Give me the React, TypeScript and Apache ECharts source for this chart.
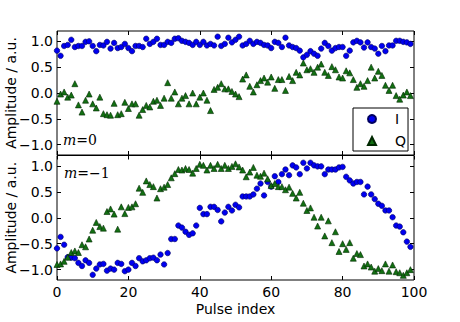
import React, { useEffect, useRef } from "react";
import * as echarts from "echarts";

const xTicks = [0, 20, 40, 60, 80, 100];
const yTicks = [-1, -0.5, 0, 0.5, 1];

const topI = [
  0.82, 0.72, 0.91, 0.93, 1.03, 0.89, 0.91, 0.91, 0.99, 1.0,
  0.91, 0.81, 0.93, 0.92, 0.99, 0.86, 0.97, 0.87, 0.89, 0.95,
  0.87, 0.81, 0.91, 0.91, 0.89, 1.05, 0.95, 0.99, 1.05, 0.93,
  0.93, 0.99, 0.97, 1.05, 1.06, 1.01, 0.99, 0.97, 0.93, 0.99,
  0.93, 0.99, 0.92, 0.95, 0.92, 1.09, 0.91, 0.95, 1.07, 0.98,
  1.03, 1.09, 0.92, 0.95, 1.01, 0.95, 0.99, 0.97, 0.93, 0.92,
  0.87, 0.99, 0.97, 0.89, 1.07, 0.92, 0.89, 0.87, 0.82, 0.69,
  0.74, 0.81, 0.76, 0.72, 0.86, 0.97, 0.91, 0.82, 0.87, 0.89,
  0.89, 0.72, 0.82, 0.98, 1.01, 0.98, 0.88, 0.98, 0.89, 0.86,
  0.76, 0.91, 0.81, 0.92, 0.92, 1.01, 1.01, 0.99, 0.98, 0.95,
];

const topQ = [
  -0.16, -0.02, 0.02, -0.08, -0.04, 0.18, -0.23, -0.37, -0.14, -0.02,
  -0.21, -0.29, -0.08, -0.4, -0.42, -0.43, -0.2, -0.42, -0.4, -0.18,
  -0.3, -0.21, -0.21, -0.43, -0.32, -0.24, -0.27, -0.16, -0.14, -0.24,
  -0.1, 0.2, -0.1, 0.02, -0.21, -0.1, -0.05, -0.21, 0.0, -0.21,
  -0.08, 0.0, -0.14, -0.34, 0.07, 0.11, 0.18, 0.08, 0.08, 0.03,
  -0.02, -0.07, 0.27, 0.35, 0.13, 0.02, 0.16, 0.24, 0.29, 0.21,
  0.31, 0.09, 0.26, 0.26, 0.05, 0.32, 0.24, 0.4, 0.35, 0.58,
  0.45, 0.47, 0.4, 0.5, 0.56, 0.4, 0.34, 0.51, 0.45, 0.31,
  0.29, 0.43, 0.39, 0.26, 0.11, 0.18, 0.13, 0.24, 0.5, 0.29,
  0.42, 0.34, 0.15, 0.05, 0.15, -0.05, -0.12, -0.04, 0.02, -0.05,
];

const botI = [
  -0.59, -0.37, -0.52, -0.76, -0.77, -0.78, -0.87, -0.93, -0.82, -0.87,
  -1.1, -0.98, -0.9, -0.89, -1.02, -0.98, -1.0, -0.87, -0.89, -1.03,
  -1.0, -0.87, -0.93, -0.78, -0.84, -0.82, -0.78, -0.77, -0.82, -0.71,
  -0.9, -0.68, -0.41, -0.41, -0.15, -0.19, -0.27, -0.33, -0.3, -0.15,
  0.19, 0.07, 0.07, 0.21, 0.21, 0.15, -0.07, 0.1, 0.21, 0.14,
  0.25, 0.2, 0.41, 0.41, 0.41, 0.45, 0.56, 0.66, 0.43, 0.69,
  0.6, 0.8, 0.69, 0.84, 0.93, 0.82, 1.01, 0.97, 0.84, 1.06,
  0.95, 1.06, 1.01, 0.99, 0.99, 0.84, 0.93, 0.93, 0.93, 0.97,
  0.98, 0.79, 0.72, 0.66, 0.69, 0.69, 0.45, 0.6, 0.45, 0.36,
  0.27, 0.23, 0.14, 0.14, 0.01, -0.15, -0.17, -0.28, -0.46, -0.56,
];

const botQ = [
  -0.9, -0.89, -0.84, -0.76, -0.67, -0.64, -0.67, -0.52, -0.56, -0.41,
  -0.24, -0.09, -0.17, -0.2, 0.12, 0.17, 0.07, -0.22, 0.21, 0.08,
  0.2, 0.21, 0.27, 0.57, 0.49, 0.71, 0.64, 0.6, 0.38, 0.56,
  0.59, 0.64, 0.77, 0.85, 0.93, 0.92, 0.95, 0.93, 0.86, 0.95,
  1.03, 1.01, 0.92, 1.01, 0.95, 1.03, 0.95, 1.01, 0.95, 0.99,
  1.04, 0.98, 0.92, 0.79, 0.88, 0.97, 0.82, 0.8, 0.86, 0.75,
  0.62, 0.66, 0.6, 0.6, 0.54, 0.59, 0.47, 0.38, 0.49, 0.28,
  0.14, 0.19, 0.01, -0.16, 0.01, -0.35, -0.06, -0.48, -0.27, -0.65,
  -0.5, -0.61, -0.48, -0.78, -0.69, -0.71, -0.93, -0.89, -0.95, -1.03,
  -0.98, -1.02, -0.89, -1.03, -0.91, -1.04, -1.06, -1.11, -1.06, -1.0,
];

const FONT = "DejaVu Sans";
const fmtY = (v: number) => v.toFixed(1).replace("-", "\u2212");

const pairs = (arr: number[]) => arr.map((v, i) => [i, v]);

function makeX(gridIndex: number, position: "top" | "bottom", labels: boolean) {
  return {
    type: "value",
    gridIndex,
    position,
    min: xTicks[0],
    max: xTicks[xTicks.length - 1],
    interval: 20,
    axisLine: { show: false, onZero: false },
    splitLine: { show: false },
    axisTick: { show: true, inside: true, length: 4, lineStyle: { color: "#000", width: 1 } },
    axisLabel: {
      show: labels,
      color: "#000",
      fontFamily: FONT,
      fontSize: 14,
      margin: 5,
    },
    name: labels ? "Pulse index" : "",
    nameLocation: "middle",
    nameGap: 22,
    nameMoveOverlap: false,
    nameTextStyle: { color: "#000", fontFamily: FONT, fontSize: 14 },
  };
}

function makeY(gridIndex: number, position: "left" | "right", labels: boolean) {
  return {
    type: "value",
    gridIndex,
    position,
    min: -1.2,
    max: 1.2,
    axisLine: { show: false, onZero: false },
    splitLine: { show: false },
    axisTick: {
      show: true,
      inside: true,
      length: 4,
      customValues: yTicks,
      lineStyle: { color: "#000", width: 1 },
    },
    axisLabel: {
      show: labels,
      customValues: yTicks,
      formatter: fmtY,
      color: "#000",
      fontFamily: FONT,
      fontSize: 14,
      margin: 4,
    },
    name: labels ? "Amplitude / a.u." : "",
    nameLocation: "middle",
    nameGap: 39,
    nameMoveOverlap: false,
    nameTextStyle: { color: "#000", fontFamily: FONT, fontSize: 14 },
  };
}

const iStyle = { color: "#0000f0", borderColor: "#000060", borderWidth: 0.6, opacity: 1 };
const qStyle = { color: "#127012", borderColor: "#002800", borderWidth: 0.6, opacity: 1 };

export default function App() {
  const ref = useRef<HTMLDivElement>(null);
  useEffect(() => {
    if (!ref.current) return;
    const chart = echarts.init(ref.current, null, { renderer: "svg" });
    const mathRich = {
      i: { fontFamily: "DejaVu Serif", fontStyle: "italic", fontSize: 14, fill: "#000" },
      r: { fontFamily: "DejaVu Serif", fontSize: 14, fill: "#000" },
    };
    const gridBase = {
      left: 57,
      width: 357,
      show: true,
      borderColor: "#000",
      borderWidth: 1,
      backgroundColor: "transparent",
      containLabel: false,
      outerBoundsMode: "none",
    };
    chart.setOption({
      animation: false,
      backgroundColor: "#fff",
      grid: [
        { ...gridBase, top: 31, height: 124 },
        { ...gridBase, top: 155.5, height: 124.5 },
      ],
      xAxis: [
        makeX(0, "bottom", false),
        makeX(0, "top", false),
        makeX(1, "bottom", true),
        makeX(1, "top", false),
      ],
      yAxis: [
        makeY(0, "left", true),
        makeY(0, "right", false),
        makeY(1, "left", true),
        makeY(1, "right", false),
      ],
      legend: {
        left: 353,
        top: 108,
        orient: "vertical",
        data: ["I", "Q"],
        itemWidth: 8,
        itemHeight: 8,
        itemGap: 8,
        padding: [4, 2, 3, 14],
        borderColor: "#000",
        borderWidth: 1,
        backgroundColor: "#fff",
        textStyle: { color: "#000", fontFamily: FONT, fontSize: 14, padding: [0, 0, 0, 14] },
      },
      graphic: [
        { type: "text", left: 63, top: 133, style: { text: "{i|m}{r|=0}", rich: mathRich } },
        { type: "text", left: 64, top: 166, style: { text: "{i|m}{r|=\u22121}", rich: mathRich } },
      ],
      series: [
        { name: "I", type: "scatter", xAxisIndex: 0, yAxisIndex: 0, symbol: "circle", symbolSize: 5.5, itemStyle: iStyle, data: pairs(topI) },
        { name: "Q", type: "scatter", xAxisIndex: 0, yAxisIndex: 0, symbol: "triangle", symbolSize: 6, itemStyle: qStyle, data: pairs(topQ) },
        { name: "I", type: "scatter", xAxisIndex: 2, yAxisIndex: 2, symbol: "circle", symbolSize: 5.5, itemStyle: iStyle, data: pairs(botI) },
        { name: "Q", type: "scatter", xAxisIndex: 2, yAxisIndex: 2, symbol: "triangle", symbolSize: 6, itemStyle: qStyle, data: pairs(botQ) },
      ],
    });
    return () => chart.dispose();
  }, []);
  return (
    <div
      ref={ref}
      style={{ position: "fixed", left: 0, top: 0, width: 460, height: 322, background: "#fff" }}
    />
  );
}
